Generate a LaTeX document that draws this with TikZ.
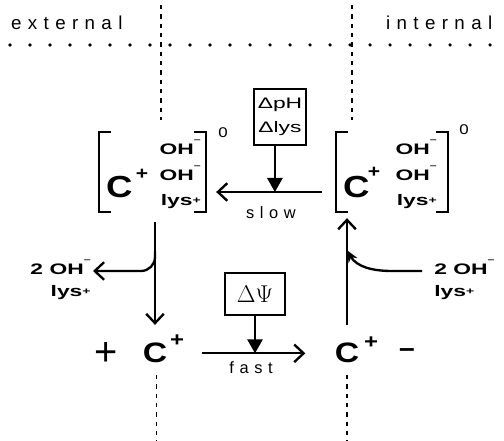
\documentclass[tikz,border=0pt]{standalone}
\usepackage{fontspec}
\setmainfont{Liberation Sans}
\newfontfamily\widefont[FakeStretch=1.5]{Liberation Sans}
\newfontfamily\cfont[FakeStretch=1.2]{Liberation Sans}
\newfontfamily\spacedfont[LetterSpace=34]{Liberation Sans}
\usetikzlibrary{arrows.meta}
\newcommand{\chm}{\raisebox{0.8em}{\scriptsize\bfseries –}}
\newcommand{\chp}{\raisebox{0.15em}{\footnotesize\bfseries +}}

\begin{document}
\begin{tikzpicture}[line width=2pt,
  openarr/.style={-{Straight Barb[length=8pt,width=15pt]}},
  tri/.style={-{Triangle[length=12pt,width=13pt]}},
  membrane/.style={line width=1.2pt,dash pattern=on 0.13cm off 0.15cm},
  bracket/.style={line width=1.5pt},
  hdr/.style={font=\spacedfont\fontsize{16}{18}\selectfont,inner sep=0pt},
  flow/.style={font=\spacedfont\fontsize{14}{16}\selectfont},
  complexrow/.style={font=\widefont\bfseries\fontsize{13}{15}\selectfont,inner sep=0pt,anchor=base east},
  bigC/.style={font=\cfont\bfseries\fontsize{26}{26}\selectfont,inner sep=0pt,anchor=base west},
  smallC/.style={font=\cfont\bfseries\fontsize{24}{24}\selectfont,inner sep=0.1cm,anchor=base},
  cplus/.style={font=\cfont\bfseries\fontsize{15}{15}\selectfont,inner sep=0pt},
  cplustwo/.style={font=\cfont\bfseries\fontsize{17}{17}\selectfont,inner sep=0pt},
  zero/.style={font=\cfont\fontsize{12}{12}\selectfont,inner sep=0pt},
  drvbox/.style={draw,line width=1.4pt,align=center,inner sep=1pt},
  loss/.style={font=\widefont\bfseries\fontsize{13}{19}\selectfont,inner sep=1pt}]
  \useasboundingbox (0,0) rectangle (15.12,-13.23);
  % sides and membrane
  \node[hdr,anchor=base west] (ext) at (0.3,-0.9) {external};
  \node[hdr,anchor=base west] (int) at (11.55,-0.9) {internal};
  \foreach \i in {0,...,24} \fill[black] (0.3+0.6*\i,-1.35) circle (1.5pt);
  \draw[membrane] (4.83,-0.15) -- (4.83,-3.6);
  \draw[membrane] (10.56,-0.15) -- (10.56,-3.6);
  \draw[membrane] (4.7,-11.25) -- (4.7,-13.23);
  \draw[membrane] (10.41,-11.25) -- (10.41,-13.23);
  % neutral complexes
  \node[minimum width=3.15cm,minimum height=2.34cm,inner sep=0pt] (cL) at (4.575,-5.16) {};
  \node[minimum width=3.3cm,minimum height=2.34cm,inner sep=0pt] (cR) at (11.76,-5.16) {};
  \draw[bracket] ([xshift=0.36cm]cL.north west) -| (cL.south west) -- ++(0.36cm,0);
  \draw[bracket] ([xshift=-0.36cm]cL.north east) -| (cL.south east) -- ++(-0.36cm,0);
  \draw[bracket] ([xshift=0.36cm]cR.north west) -| (cR.south west) -- ++(0.36cm,0);
  \draw[bracket] ([xshift=-0.36cm]cR.north east) -| (cR.south east) -- ++(-0.36cm,0);
  \node[bigC] (cLC) at (3.15,-5.94) {C};
  \node[cplus] (cLp) at (4.26,-5.22) {+};
  \node[complexrow] (cLr1) at (6.06,-4.65) {OH\chm};
  \node[complexrow] (cLr2) at (6.06,-5.43) {OH\chm};
  \node[complexrow] (cLr3) at (6.06,-6.18) {lys\chp};
  \node[zero] (cL0) at (6.69,-3.99) {0};
  \node[bigC] (cRC) at (10.26,-5.94) {C};
  \node[cplus] (cRp) at (11.22,-5.16) {+};
  \node[complexrow] (cRr1) at (13.14,-4.65) {OH\chm};
  \node[complexrow] (cRr2) at (13.14,-5.43) {OH\chm};
  \node[complexrow] (cRr3) at (13.14,-6.18) {lys\chp};
  \node[zero] (cR0) at (13.92,-3.9) {0};
  % driving forces
  \node[drvbox,font=\widefont\fontsize{13}{21}\selectfont,minimum width=1.56cm,minimum height=1.68cm] (drivers) at (8.4,-3.51) {ΔpH\\Δlys};
  \node[drvbox,font=\fontsize{20}{24}\selectfont,minimum width=1.8cm,minimum height=1.26cm] (psi) at (7.65,-8.82) {$\Delta\Psi$};
  % charged carrier
  \node[smallC] (cLo) at (4.65,-10.89) {C};
  \node[cplustwo] (cLop) at (5.31,-10.23) {+};
  \node[smallC] (cRo) at (10.41,-10.89) {C};
  \node[cplustwo] (cRop) at (11.13,-10.29) {+};
  \node[font=\fontsize{34}{34}\selectfont,inner sep=0pt] (pos) at (3.18,-10.62) {+};
  \node[font=\bfseries\fontsize{24}{24}\selectfont,inner sep=0pt] (neg) at (12.21,-10.59) {–};
  \node[loss,align=right,anchor=east] (lossL) at (2.79,-8.4) {2 OH\chm\\lys\chp};
  \node[loss,align=left,anchor=west] (lossR) at (12.96,-8.4) {2 OH\chm\\lys\chp};
  % steps
  \draw[openarr,shorten <=0.42cm,shorten >=0.3cm] ([yshift=-0.6cm]cR.west) -- coordinate[pos=0.47] (slowmid) node[flow,below=0.28cm] (slowlbl) {slow} ([yshift=-0.6cm]cL.east);
  \draw[tri] (drivers.south -| slowmid) -- (slowmid);
  \draw[openarr,shorten <=0.9cm,shorten >=0.75cm] (cLo.east) -- coordinate[pos=0.52] (fastmid) node[flow,below=0.1cm] (fastlbl) {fast} (cRo.west);
  \draw[tri] (psi.south) -- (psi.south |- fastmid);
  \draw[openarr,shorten <=0.3cm,shorten >=0.42cm] (cL.south -| cLo) -- coordinate[pos=0.31] (brL) (cLo.north);
  \draw[openarr,rounded corners=0.42cm] (brL) |- ([yshift=0.27cm]lossL.east);
  \draw[openarr,shorten <=0.42cm,shorten >=0.18cm] (cRo.north) -- coordinate[pos=0.70] (brR) (cRo.north |- cR.south);
  \draw[-{Stealth[length=0.36cm,width=0.3cm]},shorten <=0.3cm] ([yshift=0.27cm]lossR.west) -- ++(-1.2cm,0) to[out=180,in=-60] (brR);
\end{tikzpicture}
\end{document}
